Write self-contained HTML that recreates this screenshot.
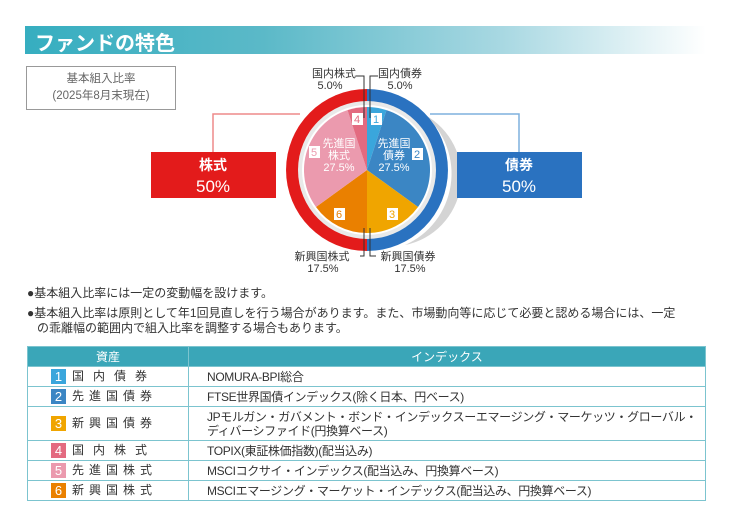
<!DOCTYPE html>
<html><head><meta charset="utf-8"><style>
body{margin:0;width:736px;height:508px;background:#fff;font-family:"Liberation Sans","Noto Sans CJK JP",sans-serif;position:relative;overflow:hidden;color:#333}
.a{position:absolute}
.hdr{left:25px;top:26px;width:681px;height:28px;background:linear-gradient(90deg,#36aec0 0%,#5bb9c8 35%,#a8d8e2 70%,#fff 100%)}
.hdr span{position:absolute;left:10px;top:1px;color:#fff;font-size:20px;font-weight:bold}
.tbl{left:27px;top:346px;width:679px;border-collapse:collapse;font-size:12px;table-layout:fixed}
.tbl td,.tbl th{border:1.5px solid #7cc4cf;padding:0;height:19px;line-height:14px}
.tbl th{background:#3aa6b8;color:#fff;font-weight:normal;height:19px}
.n{display:inline-block;width:15px;height:15px;color:#fff;text-align:center;line-height:15px;margin:0 6px 0 23px;font-size:13px;vertical-align:middle}
.c1{letter-spacing:9px}
.c2{padding-left:18px!important;letter-spacing:-0.35px;white-space:nowrap}
</style></head><body>
<div class="a hdr"><span>ファンドの特色</span></div>
<div class="a" style="left:26px;top:66px;width:150px;height:44px;border:1px solid #999;text-align:center;font-size:11.5px;color:#666;line-height:17px;padding-top:4px;box-sizing:border-box">基本組入比率<br>(2025年8月末現在)</div>
<svg class="a" style="left:0;top:0" width="736" height="290">
<polyline points="300,114 213,114 213,152" fill="none" stroke="#ee8a8a" stroke-width="1.5"/>
<polyline points="430,114 519,114 519,152" fill="none" stroke="#7fb0de" stroke-width="1.5"/>
<path d="M425,115 A78,78 0 0 1 405,245 A70,70 0 0 0 425,115 Z" fill="#d4d4d4"/>
<path d="M367,89 A81,81 0 0 1 367,251 Z" fill="#2a72c0"/>
<path d="M367,89 A81,81 0 0 0 367,251 Z" fill="#e31b1b"/>
<circle cx="367" cy="170" r="69" fill="#e9e9e9"/>
<circle cx="367" cy="170" r="65" fill="#fff"/>
<g transform="translate(367,170)">
<path d="M0,0 L0,-63 A63,63 0 0 1 19.5,-59.9 Z" fill="#3aa6dc"/>
<path d="M0,0 L19.5,-59.9 A63,63 0 0 1 51,37 Z" fill="#3b86c4"/>
<path d="M0,0 L51,37 A63,63 0 0 1 0,63 Z" fill="#f0a500"/>
<path d="M0,0 L0,63 A63,63 0 0 1 -51,37 Z" fill="#ea8000"/>
<path d="M0,0 L-51,37 A63,63 0 0 1 -19.5,-59.9 Z" fill="#eb9aae"/>
<path d="M0,0 L-19.5,-59.9 A63,63 0 0 1 0,-63 Z" fill="#e36a80"/>
</g>
<g font-size="11" fill="#333" text-anchor="middle">
<text x="334" y="77">国内株式</text><text x="330" y="89">5.0%</text>
<text x="400" y="77">国内債券</text><text x="400" y="89">5.0%</text>
<text x="322" y="260">新興国株式</text><text x="323" y="272">17.5%</text>
<text x="408" y="260">新興国債券</text><text x="410" y="272">17.5%</text>
</g>
<polyline points="356,76 364,76 364,118" fill="none" stroke="#333"/>
<polyline points="378,76 370,76 370,118" fill="none" stroke="#333"/>
<polyline points="360,256 364,256 364,228" fill="none" stroke="#333"/>
<polyline points="376,256 370,256 370,228" fill="none" stroke="#333"/>
<g font-size="11" fill="#fff" text-anchor="middle">
<text x="339" y="147">先進国</text><text x="339" y="159">株式</text><text x="339" y="171">27.5%</text>
<text x="394" y="147">先進国</text><text x="394" y="159">債券</text><text x="394" y="171">27.5%</text>
</g>
<g font-size="11">
<rect x="352" y="113" width="11" height="12" fill="#fff"/><text x="354" y="123" fill="#e36a80">4</text>
<rect x="371" y="113" width="11" height="12" fill="#fff"/><text x="373" y="123" fill="#3aa6dc">1</text>
<rect x="309" y="146" width="11" height="12" fill="#fff"/><text x="311" y="156" fill="#eb9aae">5</text>
<rect x="412" y="148" width="11" height="12" fill="#fff"/><text x="414" y="158" fill="#3b86c4">2</text>
<rect x="334" y="208" width="11" height="12" fill="#fff"/><text x="336" y="218" fill="#ea8000">6</text>
<rect x="387" y="208" width="11" height="12" fill="#fff"/><text x="389" y="218" fill="#f0a500">3</text>
</g>
<rect x="151" y="152" width="125" height="46" fill="#e31b1b"/>
<rect x="457" y="152" width="125" height="46" fill="#2a72c0"/>
<g fill="#fff" text-anchor="middle">
<text x="213" y="170" font-size="14" font-weight="bold">株式</text><text x="213" y="192" font-size="17">50%</text>
<text x="519" y="170" font-size="14" font-weight="bold">債券</text><text x="519" y="192" font-size="17">50%</text>
</g>
</svg>
<div class="a" style="left:27px;top:286px;font-size:12px;line-height:15px;color:#333">●基本組入比率には一定の変動幅を設けます。</div>
<div class="a" style="left:27px;top:306px;width:700px;font-size:12px;line-height:15px;color:#333;white-space:nowrap">●基本組入比率は原則として年1回見直しを行う場合があります。また、市場動向等に応じて必要と認める場合には、一定<br>&nbsp;&nbsp;&nbsp;の乖離幅の範囲内で組入比率を調整する場合もあります。</div>
<table class="a tbl">
<tr><th style="width:160px">資産</th><th>インデックス</th></tr>
<tr><td><span class="n" style="background:#3aa6dc">1</span><span class="c1">国内債券</span></td><td class="c2">NOMURA-BPI総合</td></tr>
<tr><td><span class="n" style="background:#3b86c4">2</span><span class="c1" style="letter-spacing:5px">先進国債券</span></td><td class="c2">FTSE世界国債インデックス(除く日本、円ベース)</td></tr>
<tr><td style="height:33px"><span class="n" style="background:#f0a500">3</span><span class="c1" style="letter-spacing:5px">新興国債券</span></td><td class="c2">JPモルガン・ガバメント・ボンド・インデックスーエマージング・マーケッツ・グローバル・<br>ディバーシファイド(円換算ベース)</td></tr>
<tr><td><span class="n" style="background:#e36a80">4</span><span class="c1">国内株式</span></td><td class="c2">TOPIX(東証株価指数)(配当込み)</td></tr>
<tr><td><span class="n" style="background:#eb9aae">5</span><span class="c1" style="letter-spacing:5px">先進国株式</span></td><td class="c2">MSCIコクサイ・インデックス(配当込み、円換算ベース)</td></tr>
<tr><td><span class="n" style="background:#ea8000">6</span><span class="c1" style="letter-spacing:5px">新興国株式</span></td><td class="c2">MSCIエマージング・マーケット・インデックス(配当込み、円換算ベース)</td></tr>
</table>
</body></html>
